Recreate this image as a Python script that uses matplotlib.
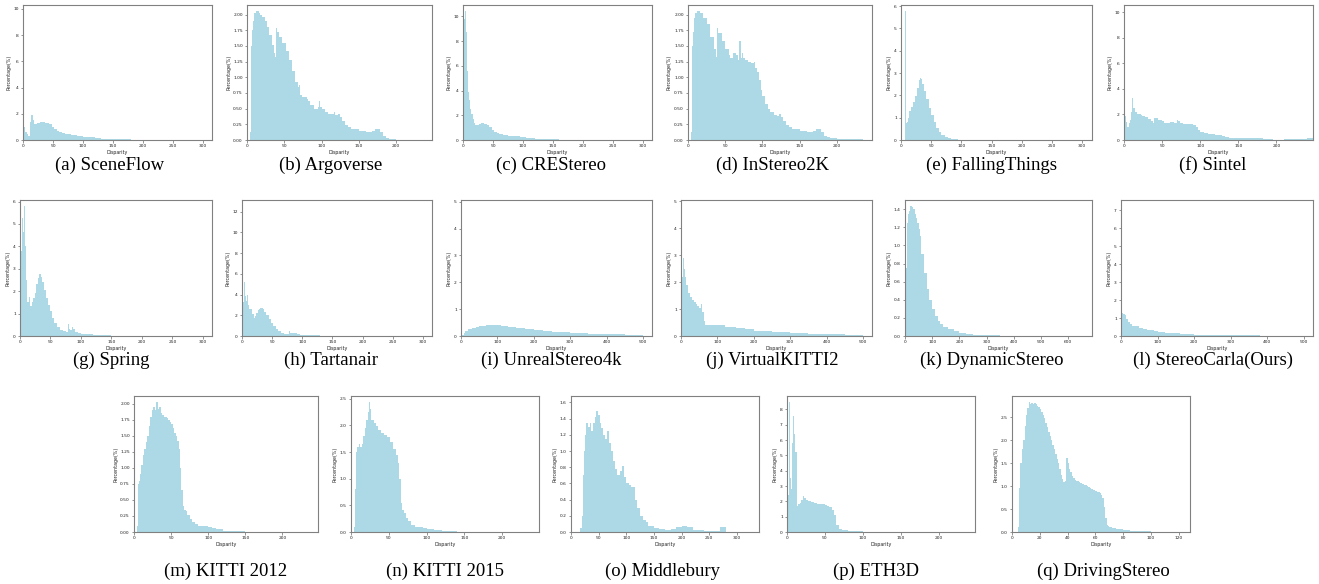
import numpy as np
import matplotlib.pyplot as plt

# ---------------- data (disparity bin edges, percentage per bin) ----------------
sceneflow_edges = [0, 1, 3, 6, 9, 12, 14, 16, 18, 20, 24, 28, 32, 36, 40, 44, 48, 52, 56, 60,
                   65, 70, 80, 90, 100, 110, 120, 130, 140, 150, 165, 180, 200, 230, 260, 300]
sceneflow_pct = [9.8, 1.0, 0.6, 0.45, 0.3, 1.4, 1.9, 1.5, 1.25, 1.2,
                 1.28, 1.35, 1.38, 1.33, 1.28, 1.2, 1.0, 0.85, 0.72, 0.6,
                 0.5, 0.42, 0.35, 0.3, 0.25, 0.2, 0.15, 0.11, 0.08, 0.06,
                 0.04, 0.03, 0.02, 0.01, 0.005]

argo_edges = [4, 5, 6, 7, 8, 9, 10, 12, 16, 18, 20, 24, 27, 30, 33, 36, 38, 39, 40, 43,
              47, 52, 56, 60, 65, 68, 70, 71, 74, 80, 82, 85, 90, 95, 96, 98, 100, 105, 108, 116,
              118, 122, 125, 128, 132, 136, 140, 150, 160, 168, 172, 178, 182, 186, 190, 200]
argo_pct = [0.13, 1.1, 1.5, 1.75, 1.9, 1.95, 2.02, 2.05, 2.02, 2.0,
            1.96, 1.9, 1.8, 1.68, 1.52, 1.38, 1.32, 1.78, 1.72, 1.65,
            1.55, 1.42, 1.28, 1.1, 0.92, 0.85, 0.88, 0.72, 0.69, 0.66,
            0.62, 0.56, 0.5, 0.52, 0.62, 0.53, 0.5, 0.45, 0.42, 0.45,
            0.4, 0.42, 0.37, 0.3, 0.24, 0.2, 0.18, 0.15, 0.13, 0.15,
            0.18, 0.13, 0.06, 0.03, 0.01]

crestereo_edges = [0, 1, 2, 4, 5, 6, 7, 8, 9, 10, 12, 14, 16, 18, 20, 23, 27, 30, 35, 40,
                   44, 48, 52, 56, 60, 66, 75, 85, 95, 105, 120, 140, 160, 200, 250, 300]
crestereo_pct = [0.6, 9.9, 9.8, 10.4, 8.7, 6.5, 5.6, 4.7, 3.9, 3.2,
                 2.5, 2.1, 1.7, 1.35, 1.2, 1.25, 1.33, 1.38, 1.32, 1.25,
                 1.05, 0.8, 0.65, 0.55, 0.47, 0.4, 0.35, 0.3, 0.25, 0.18,
                 0.12, 0.07, 0.04, 0.02, 0.01]

instereo_edges = [4, 5, 6, 7, 8, 10, 12, 16, 20, 25, 30, 35, 38, 39, 40, 45, 50, 55, 57, 60,
                  65, 67, 68, 69, 71, 72, 74, 76, 80, 85, 88, 90, 92, 95, 98, 100, 103, 107, 110, 115,
                  120, 122, 125, 128, 132, 136, 140, 150, 160, 168, 172, 178, 182, 186, 190, 200, 210, 235]
instereo_pct = [0.13, 1.1, 1.5, 1.72, 1.95, 2.02, 2.05, 2.02, 1.95, 1.85,
                1.65, 1.45, 1.33, 1.78, 1.7, 1.58, 1.45, 1.35, 1.3, 1.38,
                1.35, 1.28, 1.4, 1.58, 1.3, 1.38, 1.3, 1.28, 1.25, 1.22,
                1.25, 1.15, 1.08, 0.95, 0.8, 0.7, 0.58, 0.5, 0.44, 0.4,
                0.38, 0.42, 0.36, 0.3, 0.24, 0.2, 0.18, 0.15, 0.13, 0.15,
                0.18, 0.12, 0.06, 0.04, 0.03, 0.02, 0.012]

falling_edges = [7, 8, 10, 12, 13, 17, 20, 23, 26, 29, 31, 33, 35, 38, 42, 46, 50, 54, 58, 63,
                 67, 72, 77, 82, 88, 95, 100, 120, 140]
falling_pct = [5.76, 0.75, 0.8, 1.0, 1.32, 1.5, 1.7, 1.95, 2.35, 2.7,
               2.78, 2.72, 2.5, 2.2, 1.85, 1.45, 1.1, 0.8, 0.55, 0.35,
               0.22, 0.13, 0.08, 0.05, 0.03, 0.02, 0.015, 0.008]

sintel_edges = [0, 1, 3, 4, 6, 8, 9, 10, 11, 12, 14, 15, 17, 22, 24, 28, 32, 36, 38, 39,
                40, 44, 50, 53, 56, 60, 65, 69, 71, 73, 78, 85, 88, 90, 94, 97, 100, 105, 110, 115,
                120, 125, 128, 132, 138, 140, 150, 170, 178, 182, 190, 195, 210, 215, 240, 250]
sintel_pct = [10.05, 1.9, 1.4, 1.0, 1.3, 1.6, 2.2, 2.6, 3.25, 2.5,
              2.4, 2.2, 2.0, 1.97, 1.9, 1.8, 1.68, 1.5, 1.3, 1.78,
              1.7, 1.6, 1.45, 1.35, 1.32, 1.38, 1.32, 1.55, 1.45, 1.32,
              1.28, 1.22, 1.25, 1.15, 1.0, 0.8, 0.62, 0.52, 0.46, 0.43,
              0.42, 0.38, 0.3, 0.22, 0.19, 0.18, 0.15, 0.13, 0.14, 0.07,
              0.04, 0.03, 0.06, 0.08, 0.12]

spring_edges = [0, 1, 2, 3, 4, 5, 6, 8, 9, 10, 12, 14, 16, 20, 22, 24, 27, 29, 31, 34,
                36, 39, 43, 46, 49, 52, 56, 60, 65, 70, 75, 78, 80, 82, 85, 87, 90, 95, 100, 110,
                120, 130, 140, 150, 170, 300]
spring_pct = [2.4, 3.3, 3.8, 4.2, 5.25, 4.65, 5.78, 4.0, 4.0, 2.5,
              1.5, 1.72, 1.32, 1.5, 1.7, 1.9, 2.3, 2.6, 2.78, 2.65,
              2.4, 2.05, 1.7, 1.4, 1.1, 0.82, 0.58, 0.4, 0.28, 0.22,
              0.2, 0.55, 0.32, 0.25, 0.38, 0.32, 0.18, 0.12, 0.09, 0.07,
              0.06, 0.04, 0.03, 0.02, 0.01]

tartanair_edges = [0, 1, 4, 5, 6, 7, 8, 10, 12, 16, 20, 22, 24, 26, 28, 30, 34, 36, 40, 44,
                   48, 52, 56, 60, 65, 70, 75, 78, 80, 82, 86, 90, 92, 96, 100, 110, 130, 150, 300]
tartanair_pct = [12.5, 3.3, 5.2, 3.9, 5.8, 3.4, 4.0, 3.0, 2.6, 2.1,
                 1.7, 1.9, 2.2, 2.5, 2.65, 2.75, 2.6, 2.35, 2.0, 1.65,
                 1.3, 0.95, 0.68, 0.45, 0.3, 0.2, 0.15, 0.5, 0.28, 0.25,
                 0.33, 0.28, 0.18, 0.12, 0.08, 0.05, 0.02, 0.01]

unreal_edges = [0, 1, 8, 12, 20, 30, 40, 50, 70, 110, 130, 150, 175, 200, 225, 250, 300, 350, 400, 450,
                480, 500]
unreal_pct = [4.82, 0.02, 0.1, 0.2, 0.26, 0.3, 0.34, 0.38, 0.4, 0.38,
              0.33, 0.29, 0.25, 0.21, 0.19, 0.15, 0.12, 0.09, 0.07, 0.05, 0.03]

vkitti_edges = [0, 1, 3, 5, 8, 10, 12, 15, 20, 25, 30, 35, 40, 45, 50, 55, 58, 62, 65, 100,
                120, 150, 175, 200, 250, 300, 350, 400, 450, 500]
vkitti_pct = [4.8, 1.2, 2.2, 2.9, 2.5, 2.4, 2.2, 1.9, 1.6, 1.45,
              1.35, 1.25, 1.18, 1.1, 1.05, 1.18, 0.9, 0.55, 0.4, 0.39,
              0.33, 0.29, 0.25, 0.2, 0.16, 0.12, 0.09, 0.06, 0.04]

dynamic_edges = [0, 3, 6, 9, 12, 15, 20, 25, 30, 35, 40, 45, 50, 55, 60, 70, 80, 90, 100, 110,
                 120, 130, 140, 160, 180, 200, 225, 250, 300, 350, 450, 650]
dynamic_pct = [0.05, 0.75, 1.15, 1.25, 1.35, 1.38, 1.43, 1.42, 1.4, 1.35,
               1.3, 1.25, 1.18, 1.1, 0.9, 0.7, 0.52, 0.4, 0.3, 0.22,
               0.17, 0.13, 0.1, 0.075, 0.05, 0.035, 0.025, 0.015, 0.008, 0.005, 0.002]

carla_edges = [0, 1, 2, 3, 5, 10, 15, 20, 25, 30, 50, 60, 70, 90, 100, 120, 160, 200, 250, 300,
               350, 380, 500]
carla_pct = [7.2, 6.9, 2.6, 1.3, 1.25, 1.15, 0.95, 0.8, 0.65, 0.55,
             0.45, 0.38, 0.33, 0.3, 0.22, 0.18, 0.12, 0.08, 0.06, 0.04, 0.03, 0.01]

kitti12_edges = [4, 5, 6, 7, 8, 9, 10, 12, 14, 16, 18, 20, 22, 24, 26, 28, 30, 32, 34, 36,
                 38, 40, 42, 44, 46, 48, 50, 52, 54, 56, 58, 60, 62, 64, 66, 68, 70, 72, 75, 78,
                 82, 86, 90, 95, 100, 105, 110, 120, 130, 150, 240]
kitti12_pct = [0.1, 0.55, 0.75, 0.8, 0.9, 1.0, 1.05, 1.2, 1.3, 1.4,
               1.5, 1.65, 1.8, 1.9, 1.95, 1.9, 2.02, 1.92, 1.95, 1.85,
               1.82, 1.8, 1.8, 1.78, 1.75, 1.72, 1.68, 1.62, 1.55, 1.5,
               1.42, 1.3, 1.0, 0.65, 0.4, 0.34, 0.32, 0.27, 0.2, 0.15,
               0.12, 0.1, 0.1, 0.1, 0.08, 0.06, 0.04, 0.02, 0.01, 0.003]

kitti15_edges = [4, 5, 6, 7, 8, 10, 12, 14, 16, 18, 20, 22, 24, 25, 27, 30, 33, 36, 40, 44,
                 48, 52, 56, 60, 62, 64, 66, 68, 70, 73, 76, 80, 85, 90, 95, 100, 110, 120, 140, 160]
kitti15_pct = [0.1, 0.8, 1.2, 1.5, 1.6, 1.65, 1.6, 1.65, 1.8, 1.95,
               2.1, 2.25, 2.43, 2.3, 2.1, 2.05, 1.98, 1.92, 1.85, 1.82,
               1.78, 1.68, 1.55, 1.45, 1.3, 1.0, 0.55, 0.42, 0.35, 0.27,
               0.2, 0.13, 0.1, 0.09, 0.07, 0.05, 0.03, 0.015, 0.005]

middlebury_edges = [17, 20, 22, 24, 26, 28, 30, 31, 34, 37, 40, 43, 46, 49, 52, 55, 58, 62, 65, 68,
                    72, 76, 80, 84, 88, 92, 96, 100, 104, 108, 112, 116, 120, 125, 130, 135, 140, 150, 160, 170,
                    180, 190, 200, 210, 220, 230, 240, 250, 270, 280, 290, 320]
middlebury_pct = [0.05, 0.2, 0.7, 1.0, 1.2, 1.35, 1.6, 1.3, 1.35, 1.25,
                  1.35, 1.42, 1.5, 1.45, 1.35, 1.28, 1.2, 1.15, 1.25, 1.1,
                  1.0, 0.88, 0.78, 0.7, 0.75, 0.82, 0.68, 0.6, 0.58, 0.55,
                  0.55, 0.4, 0.3, 0.2, 0.15, 0.12, 0.08, 0.05, 0.04, 0.03,
                  0.04, 0.06, 0.07, 0.06, 0.03, 0.02, 0.015, 0.01, 0.06, 0.005,
                  0.003]

eth3d_edges = [1, 2, 3, 4, 5, 6, 7, 8, 9, 10, 11, 13, 14, 15, 17, 19, 21, 23, 25, 28,
               32, 36, 40, 45, 50, 53, 56, 59, 62, 65, 68, 72, 76, 80, 90, 100, 115, 140, 248]
eth3d_pct = [2.4, 8.0, 8.45, 3.5, 2.8, 2.2, 5.8, 7.6, 6.4, 3.5,
             5.2, 1.7, 1.5, 1.8, 1.9, 2.1, 2.35, 2.25, 2.1, 2.0,
             1.95, 1.9, 1.85, 1.8, 1.75, 1.72, 1.6, 1.45, 1.1, 0.45,
             0.22, 0.15, 0.12, 0.08, 0.05, 0.03, 0.01, 0.003]

driving_edges = list(range(4, 71)) + [72, 75, 80, 85, 90, 95, 100, 110, 125]
driving_pct = [0.1, 0.95, 1.5, 1.8, 2.0, 2.3, 2.55, 2.7, 2.82, 2.78,
               2.8, 2.78, 2.8, 2.78, 2.75, 2.72, 2.68, 2.62, 2.55, 2.48,
               2.38, 2.28, 2.18, 2.08, 2.0, 1.9, 1.8, 1.7, 1.6, 1.5,
               1.38, 1.25, 1.15, 1.08, 1.1, 1.62, 1.5, 1.38, 1.3, 1.22,
               1.17, 1.14, 1.11, 1.1, 1.08, 1.07, 1.05, 1.04, 1.03, 1.02,
               1.0, 0.98, 0.96, 0.94, 0.92, 0.91, 0.9, 0.88, 0.86, 0.84,
               0.8, 0.75, 0.55, 0.3, 0.15, 0.12,
               0.1, 0.08, 0.06, 0.04, 0.03, 0.02, 0.015, 0.008, 0.003]

captions = ['(a) SceneFlow', '(b) Argoverse', '(c) CREStereo', '(d) InStereo2K',
            '(e) FallingThings', '(f) Sintel', '(g) Spring', '(h) Tartanair',
            '(i) UnrealStereo4k', '(j) VirtualKITTI2', '(k) DynamicStereo',
            '(l) StereoCarla(Ours)', '(m) KITTI 2012', '(n) KITTI 2015',
            '(o) Middlebury', '(p) ETH3D', '(q) DrivingStereo']
x_max = [315, 248, 315, 247, 316, 248, 315, 315, 525, 525, 688, 525,
         248, 249, 340, 248, 128]

hists = [(sceneflow_edges, sceneflow_pct), (argo_edges, argo_pct),
         (crestereo_edges, crestereo_pct), (instereo_edges, instereo_pct),
         (falling_edges, falling_pct), (sintel_edges, sintel_pct),
         (spring_edges, spring_pct), (tartanair_edges, tartanair_pct),
         (unreal_edges, unreal_pct), (vkitti_edges, vkitti_pct),
         (dynamic_edges, dynamic_pct), (carla_edges, carla_pct),
         (kitti12_edges, kitti12_pct), (kitti15_edges, kitti15_pct),
         (middlebury_edges, middlebury_pct), (eth3d_edges, eth3d_pct),
         (driving_edges, driving_pct)]

# ---------------- layout (pixel boxes: left, top, right, bottom) ----------------
W, H = 1319, 584
boxes = [(23, 5, 212, 140), (247, 5, 432, 140), (463, 5, 652, 140),
         (688, 5, 872, 140), (901, 5, 1092, 140), (1124, 5, 1313, 140),
         (20, 200, 212, 336), (242, 200, 432, 336), (461, 200, 652, 336),
         (681, 200, 872, 336), (905, 200, 1092, 336), (1121, 200, 1313, 336),
         (134, 396, 318, 532), (351, 396, 539, 532), (571, 396, 759, 532),
         (787, 396, 975, 532), (1012, 396, 1190, 532)]
cap_pos = [(110, 165), (331, 165), (551, 165), (772, 165), (992, 165), (1213, 165),
           (111, 360), (331, 360), (551, 360), (772, 360), (992, 360), (1213, 360),
           (226, 571), (445, 571), (663, 571), (876, 571), (1103, 571)]

fig = plt.figure(figsize=(W / 100, H / 100), dpi=100)

for (edges, pct), box, xm, cap, (cx, cy) in zip(hists, boxes, x_max, captions, cap_pos):
    l, t, r, b = box
    ax = fig.add_axes([l / W, 1 - b / H, (r - l) / W, (b - t) / H])
    ax.stairs(pct, edges, fill=True, color='lightblue', linewidth=0)
    ax.set_xlim(0, xm)
    ax.set_ylim(0, max(pct) * 1.05)
    ax.set_xlabel('Disparity', fontsize=3.4, labelpad=1.0, color='#222222')
    ax.set_ylabel('Percentage(%)', fontsize=3.4, labelpad=1.5, color='#222222')
    ax.tick_params(labelsize=3.2, length=1.8, width=0.4, pad=1.2,
                   color='#444444', labelcolor='#222222')
    for s in ax.spines.values():
        s.set_color('#808080')
        s.set_linewidth(0.8)
    fig.text(cx / W, 1 - cy / H, cap, ha='center', va='center',
             fontfamily='Liberation Serif', fontsize=13.5)

fig.savefig('out.png', dpi=100)
